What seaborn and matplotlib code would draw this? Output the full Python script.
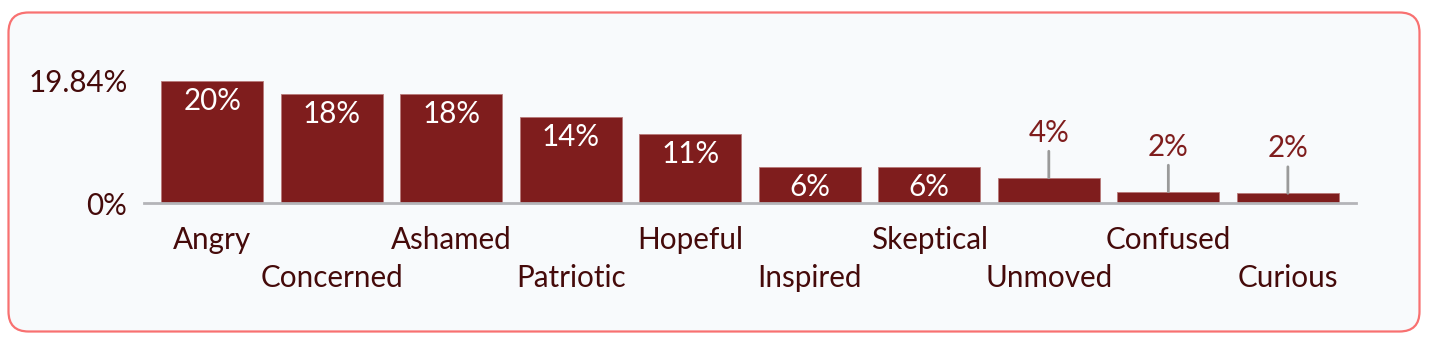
import matplotlib
matplotlib.use("Agg")
import matplotlib.pyplot as plt
import seaborn as sns
import pandas as pd
from matplotlib.patches import FancyBboxPatch

categories = ["Angry", "Concerned", "Ashamed", "Patriotic", "Hopeful",
              "Inspired", "Skeptical", "Unmoved", "Confused", "Curious"]
values = [19.84, 17.74, 17.72, 14.01, 11.17, 5.92, 5.90, 4.14, 1.88, 1.62]
y_ticks = [0, 19.84]
y_tick_labels = ["0%", "19.84%"]

BAR = "#7f1d1d"
TEXT = "#450a0a"
BG = "#f8fafc"
BORDER = "#f87171"
FS = 21.3

sns.set_theme(style="white")
plt.rcParams["font.family"] = ["Lato", "DejaVu Sans"]

W, H = 1432, 344
fig = plt.figure(figsize=(W / 100, H / 100), dpi=100)
fig.patch.set_facecolor("white")

frame = FancyBboxPatch((8.5, H - 331.5), 1411, 319,
                       boxstyle="round,pad=0,rounding_size=20",
                       transform=None, facecolor=BG, edgecolor=BORDER,
                       linewidth=1.6, zorder=-10)
fig.patches.append(frame)

ax = fig.add_axes([144 / W, (H - 203.3) / H, (1356 - 144) / W, 122.6 / H])
ax.set_facecolor("none")
ax.set_zorder(5)

df = pd.DataFrame({"cat": categories, "val": values})
sns.barplot(data=df, x="cat", y="val", color=BAR, width=0.855, ax=ax,
            saturation=1, edgecolor="#b87878", linewidth=0.6)

ax.set_xlim(-0.57, len(categories) - 0.43)
ax.set_ylim(0, 19.84)
ax.set_xlabel("")
ax.set_ylabel("")

for s in ["top", "right", "left"]:
    ax.spines[s].set_visible(False)
ax.spines["bottom"].set_color("#b4b4b8")
ax.spines["bottom"].set_linewidth(2)

ax.set_yticks(y_ticks)
ax.set_yticklabels(y_tick_labels, fontsize=FS, color=TEXT)
ax.tick_params(axis="y", length=0, pad=12)

ax.set_xticks(range(len(categories)))
ax.set_xticklabels(categories, fontsize=FS, color=TEXT)
ax.tick_params(axis="x", length=0)
for i, t in enumerate(ax.xaxis.get_major_ticks()):
    t.set_pad(16.5 if i % 2 == 0 else 43.5)

for i, v in enumerate(values):
    lab = f"{round(v):d}%"
    if v >= 5:
        ax.annotate(lab, (i, v), xytext=(0, -14.5), textcoords="offset points",
                    ha="center", va="center", color="white", fontsize=FS)
    else:
        ax.annotate(lab, xy=(i, v), xytext=(0, 32.5), textcoords="offset points",
                    ha="center", va="center", color=BAR, fontsize=FS,
                    annotation_clip=False,
                    arrowprops=dict(arrowstyle="-", color="#9a9a9a", lw=2,
                                    shrinkA=1, shrinkB=0))

fig.savefig("out.png", dpi=100, facecolor=fig.get_facecolor())
